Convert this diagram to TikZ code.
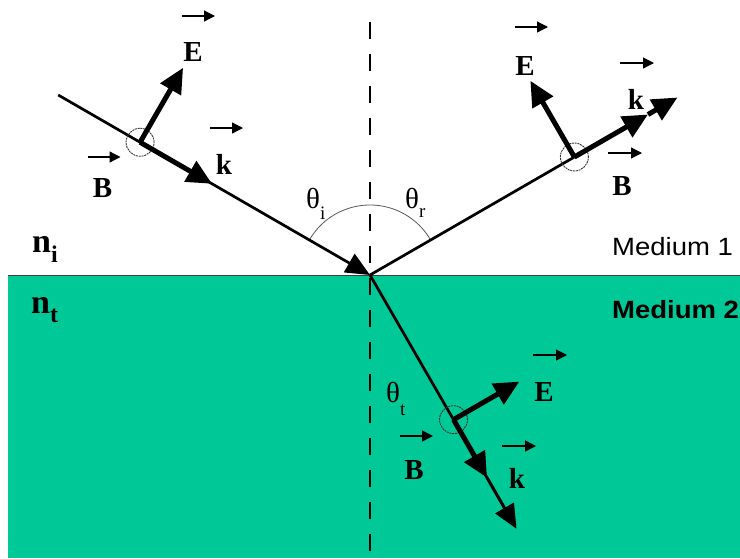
\documentclass[tikz,border=0pt]{standalone}
\usepackage{fontspec}
\usepackage{graphicx}
\setmainfont{Liberation Serif}
\newfontfamily\arialf{Liberation Sans}
\usetikzlibrary{arrows.meta,calc}
\definecolor{medgreen}{RGB}{0,200,150}
\newcommand{\lowsub}[3]{\kern#1\raisebox{-#2}{\fontsize{19}{21}\selectfont #3}}
\begin{document}
\begin{tikzpicture}[x=1pt,y=-1pt,
  ray/.style={line width=2.7pt,line cap=butt},
  vecarr/.style={line width=5pt,-{Triangle[length=25pt,width=23pt]}},
  endtip/.style={-{Triangle[length=24pt,width=21pt]}},
  ov/.style={line width=1.3pt,-{Triangle[length=11pt,width=11pt]}},
  ring/.style={circle,draw=black!80,line width=0.9pt,dash pattern=on 2pt off 0.8pt,minimum size=28pt,inner sep=0pt},
  lbl/.style={inner sep=0pt,font=\fontsize{29}{31}\selectfont\bfseries},
  nlbl/.style={inner sep=0pt,anchor=base west,font=\fontsize{34}{36}\selectfont\bfseries},
  thl/.style={inner sep=0pt,anchor=base west,font=\fontsize{29}{31}\selectfont},
  medl/.style={inner sep=0pt,anchor=base west,font=\fontsize{25}{27}\selectfont\arialf}
]
\useasboundingbox (0,0) rectangle (740,558);
\fill[white] (0,0) rectangle (740,558);
% medium 2
\fill[medgreen] (8,275) rectangle (740,558);
\draw[black!75,line width=1pt] (8,275) -- (740,275);
% normal
\draw[line width=2.6pt,dash pattern=on 17pt off 15pt] (370,22) -- (370,558);

% key points
\coordinate (O) at (370,275);
\coordinate (S) at ($(O)+(210:360)$);
\coordinate (Ci) at ($(O)+(210:265.5)$);
\coordinate (Ki) at ($(O)+(210:182.5)$);
\coordinate (Ei) at ($(Ci)+(300:86)$);
\coordinate (Cr) at ($(O)+(330:236)$);
\coordinate (Kr) at ($(O)+(330:321)$);
\coordinate (Rend) at ($(O)+(330:355)$);
\coordinate (Er) at ($(Cr)+(240:88)$);
\coordinate (Ct) at ($(O)+(60:167)$);
\coordinate (Kt) at ($(O)+(60:234)$);
\coordinate (Tend) at ($(O)+(60:293)$);
\coordinate (Et) at ($(Ct)+(330:76)$);

% angle arc
\draw[black!65,line width=0.8pt] ($(O)+(210:70)$) arc[start angle=210,end angle=330,radius=70];

% incident
\draw[ray,endtip] (S) -- (O);
\node[ring] (ri) at (Ci) {};
\draw[vecarr] (Ci) -- (Ki);
\draw[vecarr] (Ci) -- (Ei);

% reflected
\draw[ray] (O) -- (Cr);
\node[ring] (rr) at (Cr) {};
\draw[vecarr] (Cr) -- (Kr);
\draw[vecarr] (Kr) -- (Rend);
\draw[vecarr] (Cr) -- (Er);

% transmitted
\draw[ray] (O) -- (Kt);
\draw[line width=3pt,endtip] (Kt) -- (Tend);
\node[ring] (rt) at (Ct) {};
\draw[vecarr] (Ct) -- (Kt);
\draw[vecarr] (Ct) -- (Et);

% labels incident
\node[lbl] (e1) at (193,52) {E};
\draw[ov] ($(e1)+(-11,-36)$) -- ++(33,0);
\node[lbl] (b1) at (102.5,188) {B};
\draw[ov] ($(b1)+(-15,-31)$) -- ++(33,0);
\node[lbl] (k1) at (224,164) {k};
\draw[ov] ($(k1)+(-14,-36)$) -- ++(33,0);

% labels reflected
\node[lbl] (e2) at (525,66) {E};
\draw[ov] ($(e2)+(-10,-39)$) -- ++(33,0);
\node[lbl] (k2) at (636,99) {k};
\draw[ov] ($(k2)+(-16,-36)$) -- ++(34,0);
\node[lbl] (b2) at (622,186) {B};
\draw[ov] ($(b2)+(-14,-33)$) -- ++(34,0);

% labels transmitted
\node[lbl] (e3) at (544,392) {E};
\draw[ov] ($(e3)+(-11,-37)$) -- ++(34,0);
\node[lbl] (b3) at (414,470) {B};
\draw[ov] ($(b3)+(-14,-34)$) -- ++(33,0);
\node[lbl] (k3) at (517,478) {k};
\draw[ov] ($(k3)+(-15,-32)$) -- ++(34,0);

% angles
\node[thl] (thi) at (306,208) {θ\lowsub{0pt}{11pt}{i}};
\node[thl] (thr) at (405,208) {θ\lowsub{0pt}{9pt}{r}};
\node[thl] (tht) at (386,402) {θ\lowsub{0pt}{13pt}{t}};

% indices
\node[nlbl] (ni) at (32,252) {n\raisebox{-10pt}{\fontsize{24}{26}\selectfont i}};
\node[nlbl] (nt) at (31,313) {n\raisebox{-9pt}{\fontsize{24}{26}\selectfont t}};

% media
\node[medl] (m1) at (612,255) {\scalebox{1.1}[1]{Medium 1}};
\node[medl] (m2) at (612,318) {\scalebox{1.1}[1]{\bfseries Medium 2}};
\end{tikzpicture}
\end{document}
